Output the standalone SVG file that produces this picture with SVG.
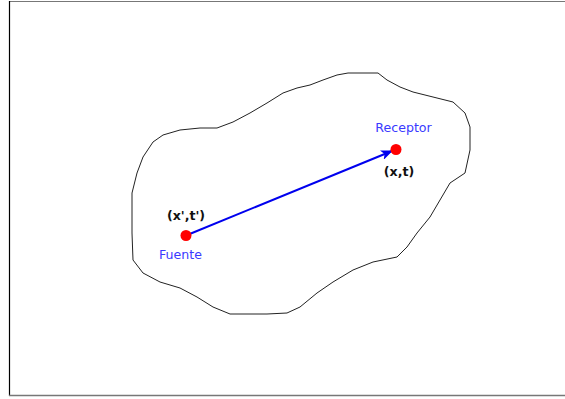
<svg xmlns="http://www.w3.org/2000/svg" width="565" height="399" viewBox="0 0 565 399">
<style>
.lbl{font-family:"DejaVu Sans",sans-serif;font-size:12.6px;fill:#3a3aff;text-anchor:middle}
.coord{font-family:"DejaVu Sans",sans-serif;font-size:12.6px;font-weight:bold;fill:#111;text-anchor:middle}
.dot{fill:#ff0000}
</style>
<defs>
<marker id="ah" markerWidth="12" markerHeight="10" refX="11" refY="5" orient="auto" markerUnits="userSpaceOnUse">
<path d="M0,0 L12,5 L0,10 L3,5 Z" fill="#0000ee"/>
</marker>
</defs>
<rect x="0" y="0" width="565" height="399" fill="#fff"/>
<g id="frame">
<line x1="9.5" y1="1.5" x2="565" y2="1.5" stroke="#777" stroke-width="1.2"/>
<line x1="9.5" y1="1" x2="9.5" y2="396" stroke="#000" stroke-width="1.2"/>
<line x1="9" y1="395.5" x2="565" y2="395.5" stroke="#777" stroke-width="1.5"/>
</g>
<g id="region">
<path d="M348,73 L378,73 L387,80 L400,87 L413,92 L433,97 L453,102 L465,113 L470,127 L470,150 L465,173 L450,183 L440,200 L430,217 L417,233 L407,247 L397,257 L373,262 L353,270 L333,282 L317,293 L300,307 L287,313 L267,314 L230,314 L213,307 L197,297 L180,288 L160,282 L143,273 L133,260 L132,233 L132,193 L137,173 L143,157 L153,142 L163,135 L180,130 L200,128 L217,128 L233,122 L250,113 L267,103 L283,93 L297,88 L310,85 L323,80 L337,75 Z" fill="none" stroke="#222" stroke-width="1" stroke-linejoin="round"/>
</g>
<g id="connectors">
<line x1="186" y1="235.5" x2="392" y2="151" stroke="#0000ee" stroke-width="2" marker-end="url(#ah)"/>
</g>
<g id="fuente">
<circle class="dot" cx="186" cy="235.5" r="5.5"/>
<text class="coord" x="186" y="220">(x',t')</text>
<text class="lbl" x="180.5" y="259">Fuente</text>
</g>
<g id="receptor">
<circle class="dot" cx="396" cy="149.5" r="5.5"/>
<text class="lbl" x="403.5" y="131.5">Receptor</text>
<text class="coord" x="399" y="176">(x,t)</text>
</g>
</svg>
